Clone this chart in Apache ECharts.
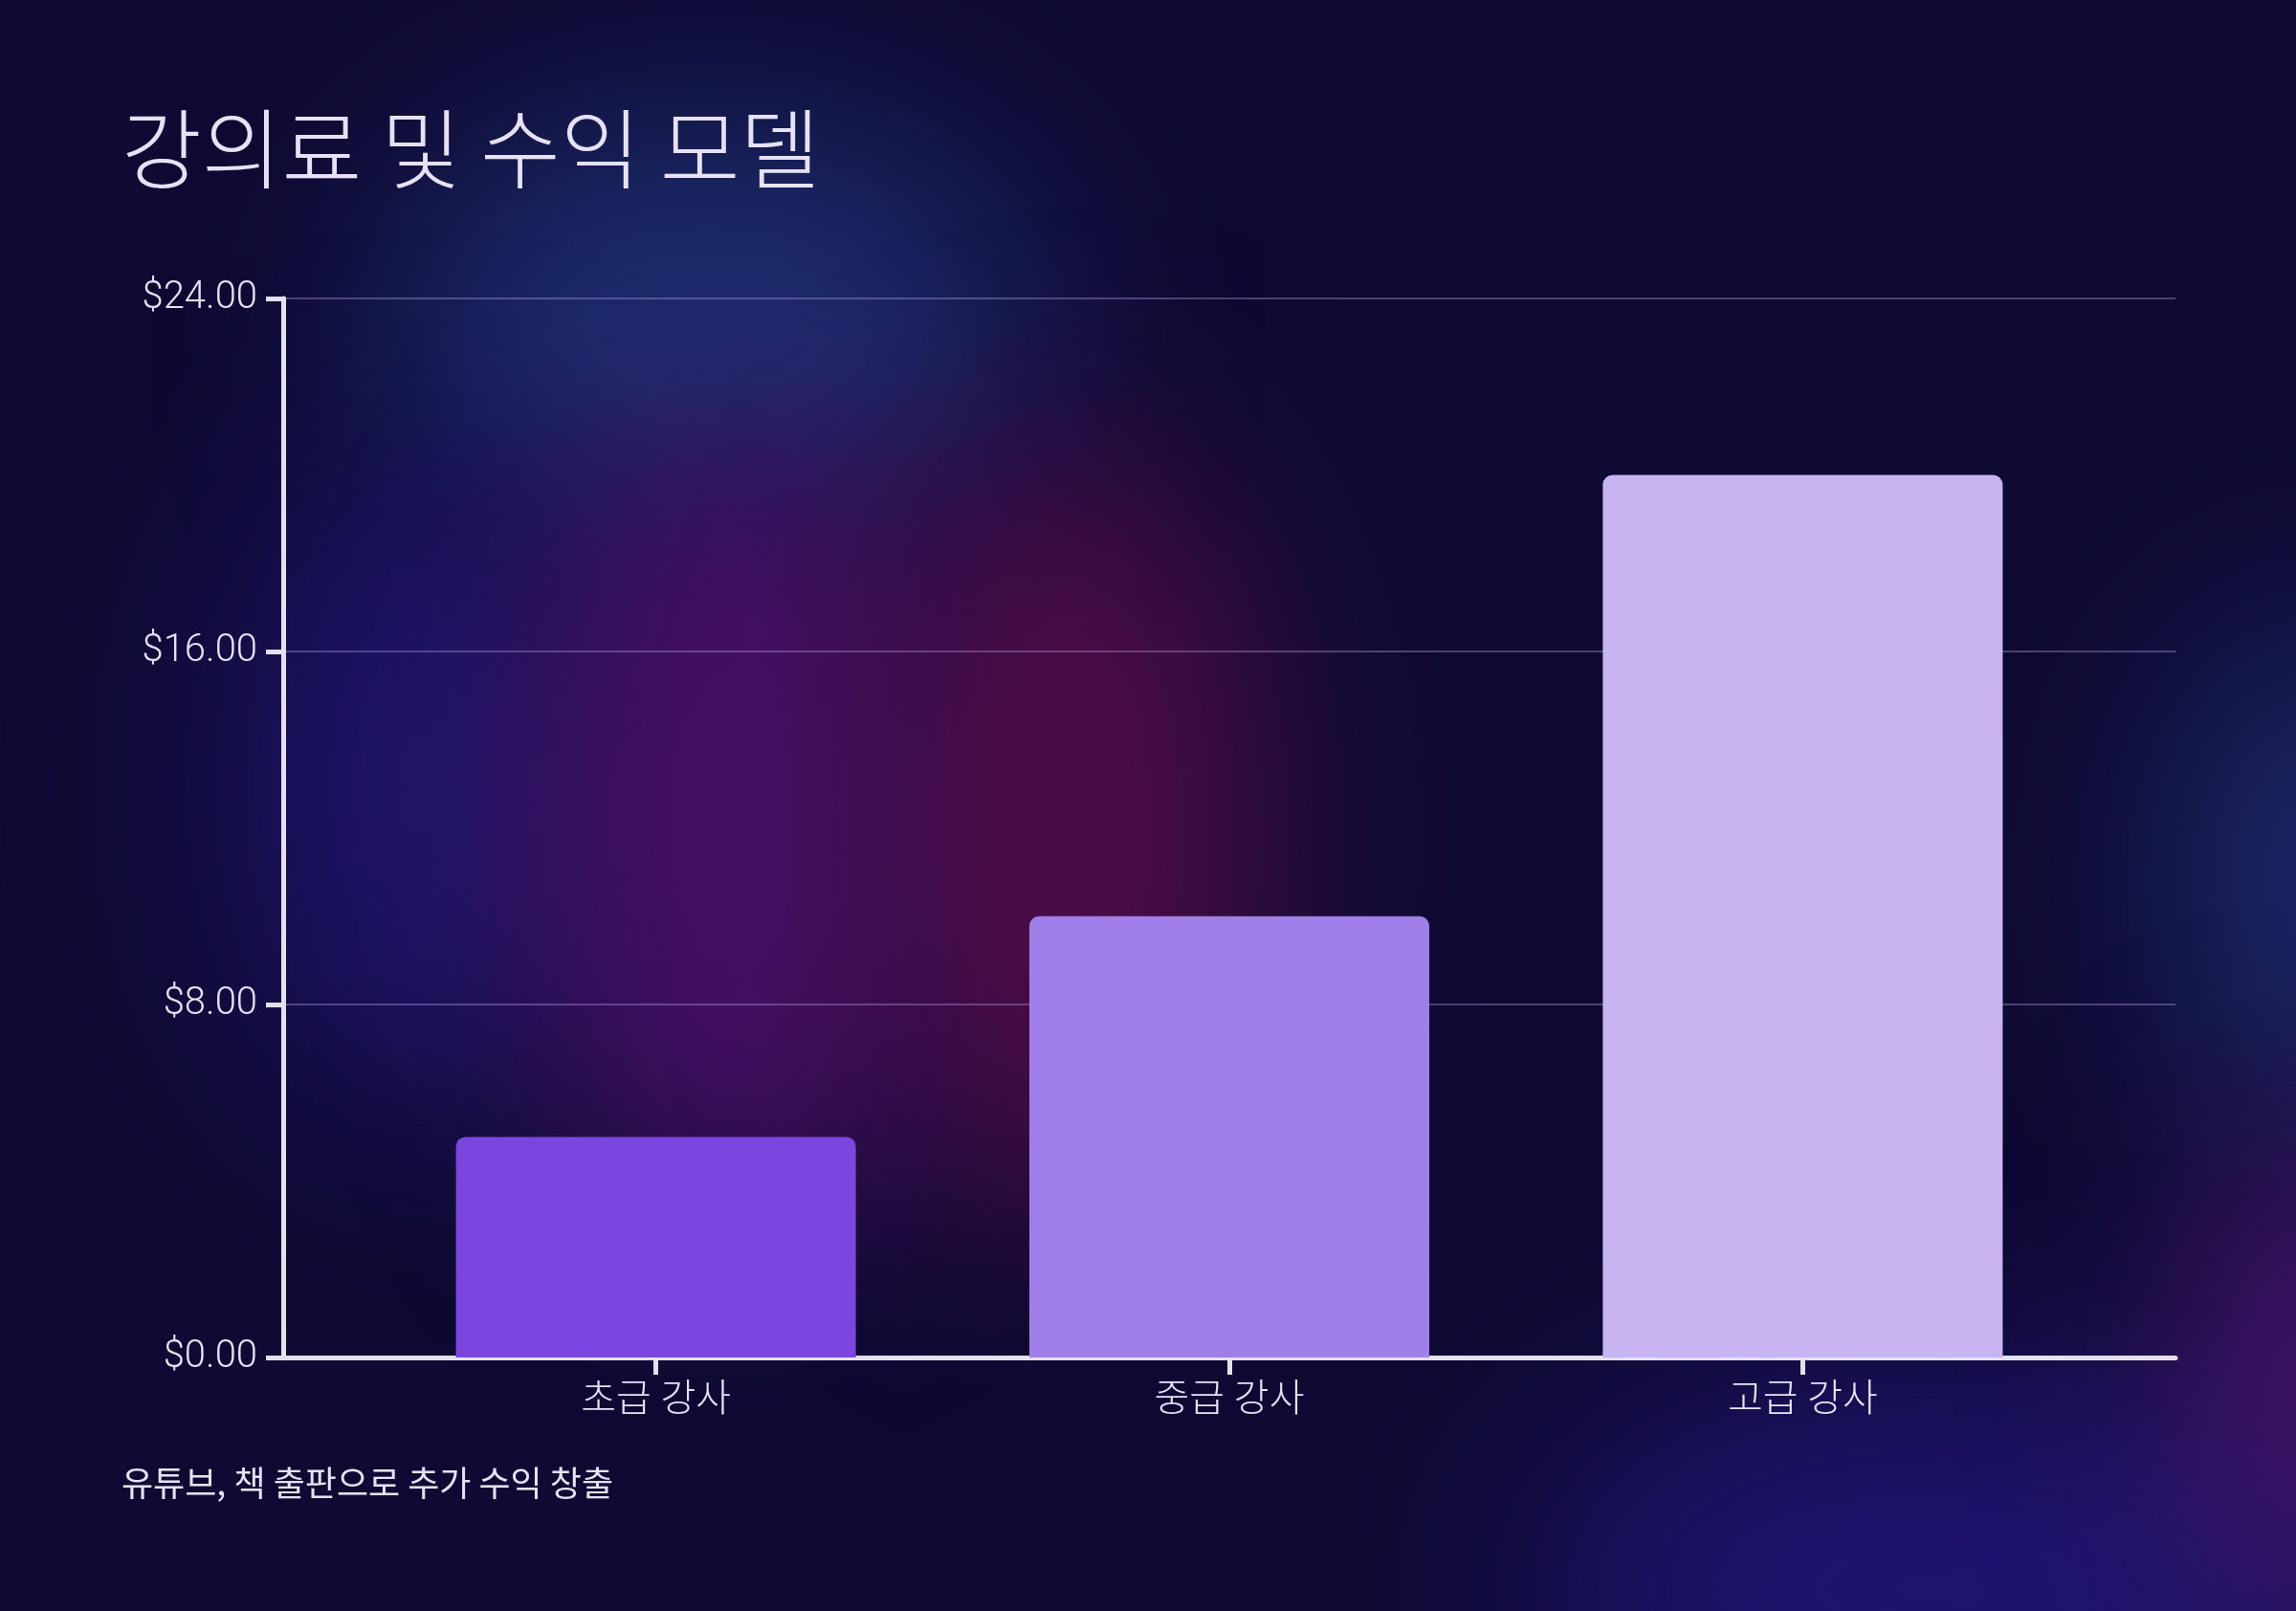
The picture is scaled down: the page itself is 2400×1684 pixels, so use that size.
<!DOCTYPE html>
<html lang="ko">
<head>
<meta charset="utf-8">
<title>강의료 및 수익 모델</title>
<script src="https://cdn.jsdelivr.net/npm/echarts@6/dist/echarts.min.js"></script>
<style>
  html, body {
    margin: 0;
    padding: 0;
    width: 2400px;
    height: 1684px;
    overflow: hidden;
    background: #0e0a33;
  }
  #glow {
    position: absolute;
    left: 0;
    top: 0;
    width: 2400px;
    height: 1684px;
    overflow: hidden;
  }
  #glow div {
    position: absolute;
    border-radius: 50%;
    filter: blur(110px);
  }
  .g-blue    { left: 400px;  top: 130px;  width: 680px; height: 420px; background: #1e2e70; }
  .g-indigo  { left: 260px;  top: 480px;  width: 360px; height: 680px; background: #1e166c; }
  .g-purple  { left: 560px;  top: 440px;  width: 420px; height: 840px; background: #481166; }
  .g-magenta { left: 930px;  top: 460px;  width: 380px; height: 820px; background: #500c4a; }
  .g-right   { left: 2280px; top: 660px;  width: 300px; height: 520px; background: #1d2c6c; }
  .g-br      { left: 1600px; top: 1450px; width: 900px; height: 420px; background: #1e1570; }
  .g-corner  { left: 2300px; top: 1180px; width: 260px; height: 520px; background: #4a1670; }
  #chart {
    position: absolute;
    left: 0;
    top: 0;
    width: 2400px;
    height: 1684px;
  }
</style>
</head>
<body>
<div id="glow">
  <div class="g-blue"></div>
  <div class="g-indigo"></div>
  <div class="g-purple"></div>
  <div class="g-magenta"></div>
  <div class="g-right"></div>
  <div class="g-br"></div>
  <div class="g-corner"></div>
</div>
<div id="chart"></div>
<script>
// 데이터
const categories = ['초급 강사', '중급 강사', '고급 강사'];
const fees = [5, 10, 20];
const barColors = ['#7b45e0', '#a17fe8', '#c7b4f0'];
const yTicks = [0, 8, 16, 24];

const titleText = '강의료 및 수익 모델';
const noteText = '유튜브, 책 출판으로 추가 수익 창출';

const textColor = '#e6e1f6';
const axisColor = '#e4e0f2';
const fontStack = 'Roboto, "Noto Sans CJK KR", sans-serif';

const chart = echarts.init(document.getElementById('chart'), null, { renderer: 'canvas' });

const catIndex = categories.map((c, i) => i);

chart.setOption({
    backgroundColor: 'transparent',
    animation: false,
    title: [
        {
            text: titleText,
            left: 127,
            top: 110,
            padding: 0,
            textStyle: {
                color: textColor,
                fontFamily: '"Noto Sans CJK KR", sans-serif',
                fontWeight: 300,
                fontSize: 91
            }
        },
        {
            text: noteText,
            left: 127,
            top: 1532,
            padding: 0,
            textStyle: {
                color: textColor,
                fontFamily: '"Noto Sans CJK KR", sans-serif',
                fontWeight: 400,
                fontSize: 36
            }
        }
    ],
    grid: {
        left: 296,
        right: 126,
        top: 312,
        bottom: 265,
        containLabel: false
    },
    xAxis: {
        type: 'value',
        min: -0.65,
        max: categories.length - 0.35,
        splitLine: { show: false },
        axisLine: {
            show: true,
            onZero: false,
            lineStyle: { color: axisColor, width: 5 }
        },
        axisTick: {
            show: true,
            customValues: catIndex,
            length: 18,
            lineStyle: { color: axisColor, width: 5 }
        },
        axisLabel: {
            show: true,
            customValues: catIndex,
            margin: 26,
            color: textColor,
            fontFamily: fontStack,
            fontWeight: 300,
            fontSize: 40,
            formatter: (v) => categories[Math.round(v)] || ''
        }
    },
    yAxis: {
        type: 'value',
        min: yTicks[0],
        max: yTicks[yTicks.length - 1],
        interval: yTicks[1] - yTicks[0],
        axisLine: {
            show: true,
            onZero: false,
            lineStyle: { color: axisColor, width: 5 }
        },
        axisTick: {
            show: true,
            length: 18,
            lineStyle: { color: axisColor, width: 5 }
        },
        axisLabel: {
            margin: 27,
            color: textColor,
            fontFamily: fontStack,
            fontWeight: 300,
            fontSize: 40,
            formatter: (v) => '$' + v.toFixed(2)
        },
        splitLine: {
            show: true,
            lineStyle: { color: 'rgba(170, 150, 220, 0.4)', width: 2 }
        }
    },
    series: [
        {
            type: 'bar',
            barWidth: 418,
            data: fees.map((v, i) => ({
                value: [i, v],
                itemStyle: {
                    color: barColors[i],
                    borderRadius: [10, 10, 0, 0]
                }
            })),
            z: 1
        }
    ]
});
</script>
</body>
</html>
